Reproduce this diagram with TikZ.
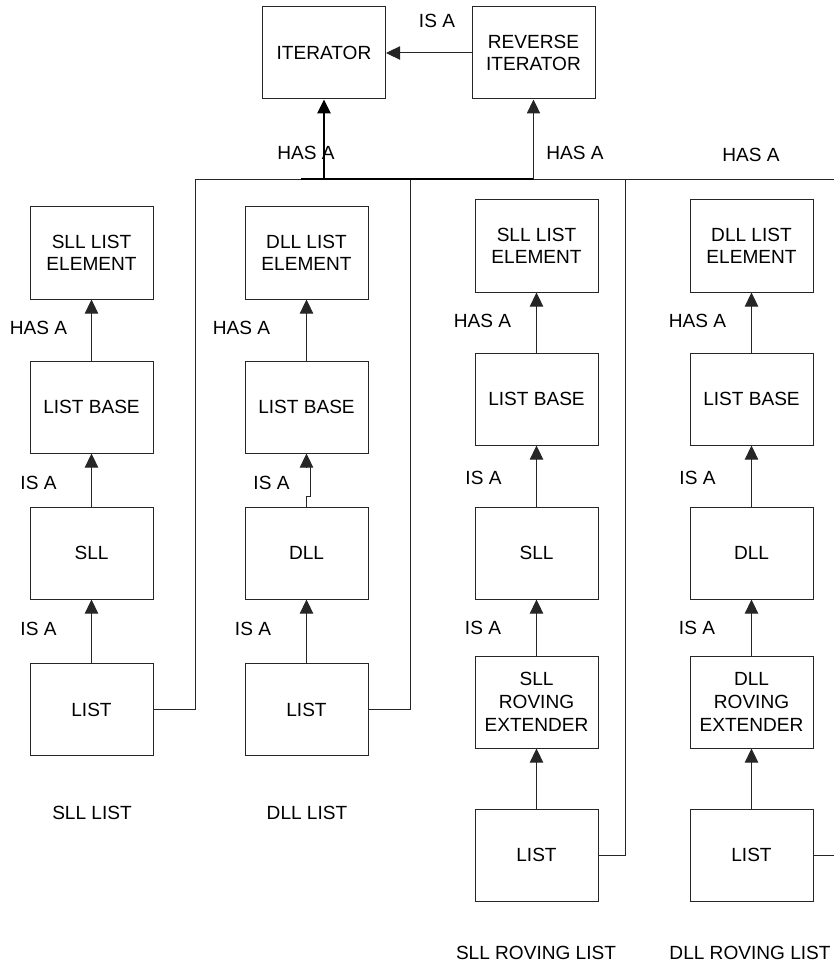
\documentclass[tikz,border=0pt]{standalone}
\usepackage{fontspec}
\setmainfont{Liberation Sans}
\usetikzlibrary{arrows.meta,calc}
\begin{document}
\begin{tikzpicture}[x=0.75pt,y=-0.75pt,
  box/.style={draw=black!85,line width=0.75pt,minimum width=92.25pt,minimum height=69pt,inner sep=0pt,align=center,
    font=\fontsize{14.3}{17}\selectfont},
  lbl/.style={inner sep=0pt,font=\fontsize{14.3}{17}\selectfont},
  conn/.style={draw=black!85,line width=0.75pt},
  arr/.style={conn,-{Triangle[width=10pt,length=10.5pt]}},
  thickarr/.style={draw=black,line width=1.5pt,-{Triangle[width=10pt,length=10.5pt]}}]
\useasboundingbox (0,0) rectangle (834,966);
% top
\node[box] (it) at (324,53) {ITERATOR};
\node[box] (rit) at (533.5,53) {REVERSE\\ITERATOR};
\draw[arr] (rit.west) -- (it.east);
\node[lbl] (lisa0) at (437,21) {IS A};
% column 1
\node[box] (e1) at (91.5,253) {SLL LIST\\ELEMENT};
\node[box] (b1) at (91.5,407) {LIST BASE};
\node[box] (s1) at (91.5,553) {SLL};
\node[box] (l1) at (91.5,709.5) {LIST};
% column 2
\node[box] (e2) at (306.5,253) {DLL LIST\\ELEMENT};
\node[box] (b2) at (306.5,407) {LIST BASE};
\node[box] (s2) at (306.5,553) {DLL};
\node[box] (l2) at (306.5,709.5) {LIST};
% column 3
\node[box] (e3) at (536.5,246) {SLL LIST\\ELEMENT};
\node[box] (b3) at (536.5,399) {LIST BASE};
\node[box] (s3) at (536.5,553) {SLL};
\node[box] (r3) at (536.5,702) {SLL\\ROVING\\EXTENDER};
\node[box] (l3) at (536.5,855) {LIST};
% column 4
\node[box] (e4) at (751.5,246) {DLL LIST\\ELEMENT};
\node[box] (b4) at (751.5,399) {LIST BASE};
\node[box] (s4) at (751.5,553) {DLL};
\node[box] (r4) at (751.5,702) {DLL\\ROVING\\EXTENDER};
\node[box] (l4) at (751.5,855) {LIST};
% vertical arrows
\draw[arr] (b1.north) -- (e1.south);
\draw[arr] (s1.north) -- (b1.south);
\draw[arr] (l1.north) -- (s1.south);
\draw[arr] (b2.north) -- (e2.south);
\draw[conn] (s2.north) -- ++(0,-10) -- ++(4,0) -- ++(0,-30);
\coordinate (j2) at ($(b2.south)+(0,14)$);
\draw[arr] (j2) -- (b2.south);
\draw[arr] (l2.north) -- (s2.south);
\draw[arr] (b3.north) -- (e3.south);
\draw[arr] (s3.north) -- (b3.south);
\draw[arr] (r3.north) -- (s3.south);
\draw[arr] (l3.north) -- (r3.south);
\draw[arr] (b4.north) -- (e4.south);
\draw[arr] (s4.north) -- (b4.south);
\draw[arr] (r4.north) -- (s4.south);
\draw[arr] (l4.north) -- (r4.south);
% bus
\coordinate (busL) at (195,180);
\coordinate (busR) at (834,180);
\coordinate (busA) at (301,179.5);
\coordinate (busI) at (324,179.5);
\coordinate (busB) at (533.5,179.5);
\draw[conn] (busL) -- (busR);
\draw[draw=black,line width=1.5pt] (busA) -- (busB);
\draw[thickarr] (busI) -- (it.south);
\draw[arr] (busB) -- (rit.south);
\draw[conn] (l1.east) -| (busL);
\coordinate (bus2) at (410,180);
\coordinate (bus3) at (625,180);
\coordinate (edge4) at (834,855);
\draw[conn] (l2.east) -| (bus2);
\draw[conn] (l3.east) -| (bus3);
\draw[conn] (l4.east) -- (edge4);
% labels
\node[lbl] (h0a) at (306,153) {HAS A};
\node[lbl] (h0b) at (575,153) {HAS A};
\node[lbl] (h0c) at (751,155) {HAS A};
\node[lbl] (h1) at (38.5,328) {HAS A};
\node[lbl] (i1a) at (38.5,483) {IS A};
\node[lbl] (i1b) at (38.5,629) {IS A};
\node[lbl] (h2) at (241.5,328) {HAS A};
\node[lbl] (i2a) at (271.5,483) {IS A};
\node[lbl] (i2b) at (253,629) {IS A};
\node[lbl] (h3) at (482.5,321) {HAS A};
\node[lbl] (i3a) at (483.5,478) {IS A};
\node[lbl] (i3b) at (483,628) {IS A};
\node[lbl] (h4) at (697.5,321) {HAS A};
\node[lbl] (i4a) at (697.5,478) {IS A};
\node[lbl] (i4b) at (697,628) {IS A};
\node[lbl] (c1) at (92,813) {SLL LIST};
\node[lbl] (c2) at (307,813) {DLL LIST};
\node[lbl] (c3) at (536,953) {SLL ROVING LIST};
\node[lbl] (c4) at (750,953) {DLL ROVING LIST};
\end{tikzpicture}
\end{document}
